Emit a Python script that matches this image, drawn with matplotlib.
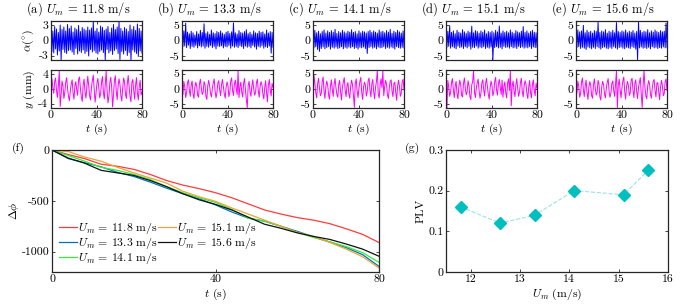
import matplotlib
matplotlib.use("Agg")
import matplotlib.pyplot as plt
import numpy as np

plt.rcParams['font.family'] = 'serif'
plt.rcParams['font.serif'] = ['cmr10', 'DejaVu Serif']
plt.rcParams['mathtext.fontset'] = 'cm'
plt.rcParams['axes.unicode_minus'] = False
plt.rcParams['font.size'] = 8.5

# ---- data ----
speeds = ['11.8', '13.3', '14.1', '15.1', '15.6']
panel_tags = ['(a)', '(b)', '(c)', '(d)', '(e)']

a_alpha = [2.6, -2.2, 1.9, -2.5, 2.8, -1.7, 2.3, -2.9, 1.6, -2.1,
           3.1, -3.9, 2.2, -1.8, 2.7, -2.4, 1.9, -2.6, 3.2, -2.0,
           2.4, -1.9, 2.9, -2.3, 1.7, -2.8, 2.5, -1.6, 2.2, -2.7,
           3.0, -2.1, 1.8, -2.4, 2.6, -1.9, 2.3, -2.6, 2.0, -2.2,
           2.7, -3.1, 2.1, -1.8, 2.5, -2.3, 3.9, -2.0, 1.9, -2.5,
           2.4, -2.7, 1.7, -2.2, 2.9, -1.9, 2.6, -2.4, 2.0, -3.9,
           2.3, -1.8, 2.8, -2.5, 1.6, -2.1, 2.5, -2.8, 3.2, -2.0,
           2.2, -1.7, 2.7, -2.6, 3.9, -3.8, 2.4, -2.2, 1.9, -2.7,
           2.6, -2.0, 2.3, -3.0, 1.8, -2.4, 3.1, -3.9, 2.2, -1.9,
           2.8, -2.3, 2.0, -2.6, 3.3, -3.2, 2.4, -2.1, 1.9, -2.5]
b_alpha = [2.4, -2.0, 3.1, -1.8, 5.6, -2.3, 2.7, -1.5, 2.2, -2.6,
           3.0, -1.9, 2.5, -2.2, 1.8, -1.6, 2.9, -2.4, 2.1, -1.7,
           3.3, -2.1, 2.6, -1.8, 5.4, -2.5, 2.3, -1.9, 2.8, -2.2,
           2.0, -1.6, 3.4, -2.3, 2.5, -1.9, 2.2, -2.7, 2.9, -1.8,
           2.6, -2.0, 3.1, -1.7, 2.4, -2.4, 2.0, -1.9, 2.7, -2.1,
           3.0, -1.6, 2.3, -2.5, 2.8, -1.8, 5.7, -2.2, 2.5, -1.9,
           2.1, -2.3, 3.2, -1.7, 2.6, -2.0, 2.4, -2.6, 2.9, -1.8,
           3.5, -2.2, 2.2, -1.9, 2.7, -2.4, 2.0, -1.6, 3.1, -2.1,
           2.5, -2.8, 2.3, -1.9, 3.0, -2.2, 2.6, -1.7, 2.8, -2.5,
           2.1, -2.0, 3.4, -2.3, 2.4, -1.8, 2.9, -4.1, 2.6, -2.2]
c_alpha = [2.8, -2.4, 3.3, -2.0, 2.5, -2.9, 3.0, -3.5, 2.2, -2.6,
           2.9, -2.1, 3.4, -2.7, 2.4, -2.3, 3.1, -2.0, 2.6, -2.8,
           3.2, -2.2, 2.7, -2.5, 3.6, -2.1, 2.3, -2.6, 2.9, -2.4,
           2.5, -2.0, 3.3, -2.7, 2.8, -2.2, 2.4, -2.5, 3.0, -2.1,
           2.7, -2.4, 3.5, -2.0, 2.6, -2.6, 2.9, -2.3, 2.2, -2.8,
           3.1, -2.2, 2.5, -2.4, 3.0, -2.1, 2.8, -2.6, 2.4, -4.2,
           2.9, -2.3, 3.3, -2.0, 2.6, -2.5, 3.1, -2.2, 2.7, -2.7,
           2.4, -2.1, 3.4, -2.4, 2.8, -2.3, 3.0, -2.0, 2.5, -2.6,
           3.2, -2.2, 2.7, -2.5, 3.6, -2.1, 2.3, -2.4, 3.0, -2.8,
           2.6, -2.0, 3.3, -2.3, 2.8, -2.5, 2.4, -2.2, 3.1, -2.4]
d_alpha = [2.5, -2.2, 3.0, -1.9, 4.8, -2.5, 2.6, -2.0, 3.1, -2.4,
           2.2, -2.7, 3.3, -1.8, 2.7, -2.3, 2.4, -2.1, 3.5, -2.6,
           2.8, -2.0, 2.3, -2.4, 3.0, -1.9, 2.6, -2.8, 4.6, -2.2,
           2.5, -2.3, 3.2, -1.8, 2.9, -2.5, 2.4, -2.1, 3.1, -2.4,
           2.7, -2.0, 3.4, -2.6, 2.2, -2.2, 2.9, -2.5, 2.6, -2.1,
           3.0, -6.3, 2.5, -2.3, 3.3, -2.0, 2.8, -2.4, 4.7, -2.2,
           2.4, -2.7, 3.1, -1.9, 2.6, -2.3, 3.0, -2.1, 2.5, -2.5,
           3.4, -2.0, 2.7, -2.4, 2.3, -2.2, 3.2, -2.6, 2.8, -1.9,
           2.5, -2.3, 3.0, -2.1, 4.5, -2.5, 2.6, -2.2, 3.1, -2.4,
           2.4, -2.0, 2.9, -2.6, 3.3, -2.1, 2.7, -2.3, 2.5, -2.2]
e_alpha = [2.6, -2.3, 3.4, -2.0, 2.8, -2.6, 3.1, -2.2, 4.9, -2.5,
           2.5, -2.9, 3.3, -2.1, 2.7, -2.4, 3.0, -2.7, 2.4, -2.2,
           3.2, -2.6, 2.9, -2.0, 5.9, -2.4, 2.6, -2.8, 3.1, -2.3,
           2.8, -2.1, 3.5, -2.5, 2.4, -2.7, 3.0, -2.2, 2.7, -2.6,
           3.3, -2.0, 2.5, -2.4, 5.8, -2.8, 2.9, -2.3, 2.6, -2.1,
           3.1, -2.5, 2.8, -2.7, 3.4, -2.2, 2.5, -2.4, 3.0, -2.6,
           2.7, -2.0, 3.2, -2.3, 2.4, -2.8, 2.9, -6.2, 6.1, -2.4,
           3.3, -2.1, 2.6, -2.5, 3.0, -2.3, 2.8, -2.6, 3.5, -2.2,
           2.5, -2.7, 3.1, -2.0, 2.7, -2.4, 3.4, -2.2, 2.9, -2.6,
           2.6, -2.3, 3.2, -2.5, 2.8, -2.1, 3.0, -2.4, 5.6, -2.2]

a_y = [1.5, 2.8, 0.4, -1.2, 2.1, 3.0, -0.5, -2.3, 1.0, 4.9,
       -4.8, -1.5, 2.2, 0.8, -2.6, -1.0, 1.8, 3.1, 0.2, -2.0,
       -3.2, -0.6, 1.4, 2.5, -1.1, -2.8, 0.9, 2.0, -0.3, -1.7,
       2.6, 3.3, 0.1, -2.2, -3.4, 1.2, 2.7, -0.8, -2.5, 0.6,
       3.5, 1.0, -1.9, -3.0, 0.4, 2.3, 3.8, -0.2, -3.6, -1.1,
       1.6, 2.9, 0.3, -2.4, -1.3, 2.0, 3.4, -0.9, -2.7, 1.1,
       4.9, -0.4, -3.8, -2.0, 1.7, 3.2, 0.5, -4.9, -1.6, 2.4,
       3.6, -0.7, -2.9, 0.8, 2.8, 1.3, -1.8, -3.3, 0.2, 3.0,
       2.1, -1.4, -2.6, 1.5, 3.7, 0.6, -2.1, -3.5, 1.9, 2.6,
       -0.5, -2.8, 1.0, 3.1, -1.2, -3.0, 0.7, 2.4, -1.6, -0.8]
b_y = [4.8, -1.9, 2.5, 0.7, -2.8, -1.2, 2.1, 3.0, -0.4, -2.4,
       1.3, 2.6, -1.5, -3.1, 0.5, 2.2, 1.0, -2.0, -2.7, 1.7,
       3.2, 0.3, -1.8, -1.0, 2.4, 1.5, -2.3, -3.4, 0.9, 2.8,
       1.2, -1.4, -2.6, 0.2, 2.0, 3.3, -0.6, -2.9, -1.1, 1.9,
       2.7, -0.3, -2.2, 1.4, 3.1, 0.8, -1.6, -3.0, 0.6, 2.3,
       1.1, -2.5, -1.3, 2.6, 3.6, -0.5, -2.1, 1.6, 2.9, 0.4,
       -1.9, 6.0, -2.8, 0.7, 2.2, -1.0, -2.6, 1.8, 3.4, -0.2,
       -3.5, -6.1, 1.2, 2.5, -0.8, -2.4, 1.0, 3.0, 0.1, -2.0,
       -1.2, 2.1, 3.2, -0.7, -2.7, 0.9, 2.4, 1.3, -1.7, -3.2,
       0.5, 2.7, -1.1, -4.2, 1.4, 3.1, -0.4, -2.3, 1.8, 0.6]
c_y = [-6.1, 4.7, 2.0, -1.3, -2.9, 1.6, 3.5, 0.4, -2.2, -1.5,
       2.4, 3.9, -0.7, -3.1, 0.8, 2.6, 1.2, -2.0, -3.3, 1.0,
       3.0, -0.2, -2.4, 1.7, 3.4, 0.3, -1.8, -2.7, 1.5, 2.8,
       -0.9, -3.6, 0.6, 2.3, 3.7, -0.4, -2.5, 1.1, 2.1, -1.6,
       -3.0, 0.9, 2.9, 1.4, -2.1, -6.0, 1.9, 3.3, -0.6, -2.8,
       0.2, 2.5, 3.8, -1.2, -3.4, 0.7, 2.2, 1.3, -2.3, -1.0,
       2.7, 3.6, -0.5, -2.6, 1.6, 3.1, -0.8, -3.2, 0.4, 2.4,
       6.1, -1.7, -2.9, 1.2, 3.3, 0.5, 6.0, -2.2, 0.9, 2.8,
       1.5, -1.9, -3.1, 0.3, 2.6, 3.0, -0.7, -2.5, 1.8, 2.2,
       -1.1, -3.7, 0.8, 2.9, 1.0, -2.4, -1.4, 2.3, 3.2, -0.3]
d_y = [6.1, -6.2, 2.8, 0.6, -2.4, -1.1, 2.2, 3.4, -0.3, -2.8,
       1.0, 2.5, -1.6, -3.2, 0.7, 2.9, 1.4, -2.1, -2.6, 1.8,
       3.6, 0.2, -1.9, -0.9, 2.7, 1.1, -2.5, -3.5, 1.3, 2.4,
       6.0, -1.2, -2.8, 0.4, 2.1, 3.2, -0.6, -3.0, -1.4, 2.0,
       3.0, -0.1, -2.3, 1.5, 3.5, 0.9, -1.7, -3.3, 0.5, 2.6,
       1.2, -2.2, -1.0, 2.4, 3.8, -0.4, -2.0, 1.7, 3.1, 0.6,
       -1.8, 2.9, -2.7, 0.8, 2.3, -1.3, -2.9, 1.9, 3.3, -0.5,
       6.0, -5.5, 1.1, 2.6, -0.7, -2.5, 1.3, 3.4, 0.2, -2.4,
       -1.0, 2.2, 3.5, -0.9, -2.6, 1.0, 2.7, 1.6, -1.5, -3.1,
       0.7, 2.8, -1.3, -2.9, 1.5, 3.0, -0.6, -2.2, 1.9, 0.3]
e_y = [6.1, -1.4, 2.6, 0.9, -2.7, -1.5, 2.3, 3.6, -0.2, -2.5,
       1.1, 2.9, -1.2, -3.4, 0.6, 2.4, 1.3, -2.2, -3.0, 1.5,
       3.3, 0.1, -2.0, -1.1, 2.8, 1.7, -2.6, -3.6, 0.8, 2.5,
       1.4, -1.6, -2.9, 0.3, 2.2, 3.4, -0.8, -2.7, -1.3, 1.8,
       2.6, -0.5, -2.4, 1.6, 6.0, -6.1, 1.2, 3.2, -0.3, -2.9,
       0.4, 2.7, 3.9, -1.0, -3.3, 0.8, 2.5, 1.2, -2.1, -1.2,
       2.9, 3.5, -0.4, -2.8, 1.7, 3.0, -0.9, -3.1, 0.5, 2.3,
       3.7, -1.8, -6.0, 1.0, 6.0, 0.6, -2.3, -3.2, 1.0, 2.7,
       1.6, -1.7, -3.0, 0.4, 2.5, 3.1, -0.6, -2.6, 1.9, 2.1,
       -0.9, -3.5, 0.7, 2.8, 1.1, -2.2, -1.5, 2.4, 3.3, -0.5]

alpha_series = [a_alpha, b_alpha, c_alpha, d_alpha, e_alpha]
y_series = [a_y, b_y, c_y, d_y, e_y]
alpha_lims = [3.9, 6.3, 6.3, 6.3, 6.3]
alpha_ticks = [[-3, 0, 3], [-5, 0, 5], [-5, 0, 5], [-5, 0, 5], [-5, 0, 5]]
y_lims = [5.2, 6.2, 6.2, 6.2, 6.2]
y_ticks = [[-4, 0, 4], [-5, 0, 5], [-5, 0, 5], [-5, 0, 5], [-5, 0, 5]]

# phase difference curves (f)
t_phase = [0, 4, 8, 12, 16, 20, 24, 28, 32, 36, 40, 44, 48, 52, 56, 60,
           64, 68, 72, 76, 80]
dphi_118 = [0, -45, -85, -140, -160, -190, -240, -300, -345, -380, -420,
            -470, -530, -590, -630, -665, -690, -725, -775, -830, -910]
dphi_133 = [0, -85, -125, -165, -220, -260, -315, -375, -430, -480, -540,
            -610, -670, -700, -750, -800, -855, -905, -960, -1030, -1145]
dphi_141 = [0, -55, -110, -170, -200, -240, -290, -360, -420, -470, -515,
            -585, -670, -700, -750, -810, -860, -905, -950, -1010, -1105]
dphi_151 = [0, -15, -70, -110, -170, -225, -275, -325, -405, -460, -505,
            -570, -630, -690, -750, -810, -850, -910, -975, -1050, -1160]
dphi_156 = [0, -80, -130, -200, -225, -250, -300, -360, -430, -490, -535,
            -590, -660, -730, -770, -815, -850, -880, -925, -975, -1045]
phase_series = [dphi_118, dphi_133, dphi_141, dphi_151, dphi_156]
phase_colors = ['#FF3B3B', '#0072BD', '#33EE33', '#EDA33A', '#111111']

# PLV (g)
plv_speed = [11.8, 12.6, 13.3, 14.1, 15.1, 15.6]
plv = [0.16, 0.12, 0.14, 0.20, 0.19, 0.25]

# ---- figure ----
fig = plt.figure(figsize=(6.92, 3.05), dpi=100)
frame_col = '#262626'


def style(ax):
    for s in ax.spines.values():
        s.set_color(frame_col)
        s.set_linewidth(0.9)
    ax.tick_params(direction='in', top=True, right=True, length=2.5,
                   width=0.6, color=frame_col, pad=2, labelsize=8.5)


lefts = [51, 182, 313, 446, 576]
W, H = 692.0, 305.0
for i in range(5):
    l = lefts[i] / W
    ax1 = fig.add_axes([l, 1 - 60 / H, 91 / W, 39 / H])
    t = np.linspace(0, 80, len(alpha_series[i]))
    ax1.plot(t, alpha_series[i], color='#0000FF', lw=0.7)
    ax1.set_xlim(0, 80)
    ax1.set_ylim(-alpha_lims[i], alpha_lims[i])
    ax1.set_xticks([0, 40, 80])
    ax1.set_xticklabels([])
    ax1.set_yticks(alpha_ticks[i])
    ax1.set_yticklabels([str(v) for v in alpha_ticks[i]])
    style(ax1)

    ax2 = fig.add_axes([l, 1 - 108 / H, 91 / W, 38 / H])
    t = np.linspace(0, 80, len(y_series[i]))
    ax2.plot(t, y_series[i], color='#FF00FF', lw=0.7)
    ax2.set_xlim(0, 80)
    ax2.set_ylim(-y_lims[i], y_lims[i])
    ax2.set_xticks([0, 40, 80])
    ax2.set_xticklabels(['0', '40', '80'])
    ax2.set_yticks(y_ticks[i])
    ax2.set_yticklabels([str(v) for v in y_ticks[i]])
    ax2.set_xlabel(r'$t$ (s)', fontsize=8.5, labelpad=1)
    style(ax2)
    if i == 0:
        ax1.set_ylabel(r'$\alpha(^{\circ})$', fontsize=8.5, labelpad=2)
        ax2.set_ylabel(r'$y$ (mm)', fontsize=8.5, labelpad=1)

    fig.text((lefts[i] - 25) / W, 1 - 9 / H,
             panel_tags[i] + r' $U_m$ = ' + speeds[i] + ' m/s',
             fontsize=9, va='center', ha='left')

# (f)
axf = fig.add_axes([52 / W, 1 - 272 / H, 327 / W, 122 / H])
for s, ys, c in zip(speeds, phase_series, phase_colors):
    axf.plot(t_phase, ys, color=c, lw=0.9, label=r'$U_m$ = ' + s + ' m/s')
axf.set_xlim(0, 80)
axf.set_ylim(-1200, 0)
axf.set_xticks([0, 40, 80])
axf.set_xticklabels(['0', '40', '80'])
axf.set_yticks([-1000, -500, 0])
axf.set_yticklabels(['-1000', '-500', '0'])
axf.set_xlabel(r'$t$ (s)', fontsize=8.5, labelpad=2)
axf.set_ylabel(r'$\Delta\phi$', fontsize=8.5, labelpad=0)
style(axf)
axf.legend(ncol=2, loc='lower left', bbox_to_anchor=(0.0, -0.01),
           frameon=False, fontsize=8.5, handlelength=1.5, handletextpad=0.1,
           columnspacing=0.0, labelspacing=0.02, borderaxespad=0.2)
fig.text(12 / W, 1 - 148 / H, '(f)', fontsize=8.5, va='center')

# (g)
axg = fig.add_axes([446 / W, 1 - 272 / H, 222 / W, 122 / H])
axg.plot(plv_speed, plv, color='#9BE3E3', lw=0.8, ls='--', marker='D',
         ms=6, mfc='#00BFBF', mec='#00BFBF')
axg.set_xlim(11.5, 16)
axg.set_ylim(0, 0.3)
axg.set_xticks([12, 13, 14, 15, 16])
axg.set_xticklabels(['12', '13', '14', '15', '16'])
axg.set_yticks([0, 0.1, 0.2, 0.3])
axg.set_yticklabels(['0', '0.1', '0.2', '0.3'])
axg.set_xlabel(r'$U_m$ (m/s)', fontsize=8.5, labelpad=2)
axg.set_ylabel('PLV', fontsize=8.5, labelpad=2)
style(axg)
fig.text(405 / W, 1 - 148 / H, '(g)', fontsize=8.5, va='center')

fig.savefig('out.png', dpi=100)
